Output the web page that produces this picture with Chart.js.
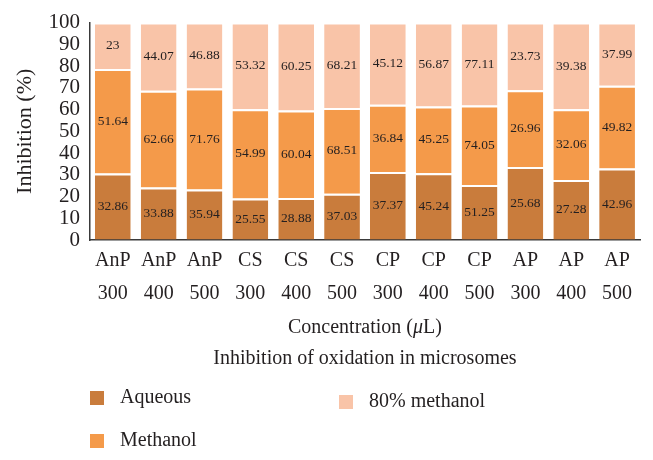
<!DOCTYPE html>
<html>
<head>
<meta charset="utf-8">
<script src="https://cdn.jsdelivr.net/npm/chart.js@4/dist/chart.umd.min.js"></script>
<style>
  html, body { margin: 0; padding: 0; background: #fff; }
  #wrap { width: 653px; height: 460px; }
</style>
</head>
<body>
<div id="wrap"><canvas id="MyChart" width="653" height="460"></canvas></div>
<script>
const groups = ['AnP', 'AnP', 'AnP', 'CS', 'CS', 'CS', 'CP', 'CP', 'CP', 'AP', 'AP', 'AP'];
const concs = ['300', '400', '500', '300', '400', '500', '300', '400', '500', '300', '400', '500'];

const aqueous = [32.86, 33.88, 35.94, 25.55, 28.88, 37.03, 37.37, 45.24, 51.25, 25.68, 27.28, 42.96];
const methanol = [51.64, 62.66, 71.76, 54.99, 60.04, 68.51, 36.84, 45.25, 74.05, 26.96, 32.06, 49.82];
const methanol80 = [23, 44.07, 46.88, 53.32, 60.25, 68.21, 45.12, 56.87, 77.11, 23.73, 39.38, 37.99];

const yTicks = [0, 10, 20, 30, 40, 50, 60, 70, 80, 90, 100];

const serif = '"Liberation Serif", "DejaVu Serif", serif';

// bars are 100% stacked, labels show the raw values
const totals = aqueous.map((v, i) => v + methanol[i] + methanol80[i]);
const pct = (arr) => arr.map((v, i) => v / totals[i] * 100);

const series = [
    {label: 'Aqueous', raw: aqueous, color: '#C97C3C'},
    {label: 'Methanol', raw: methanol, color: '#F49A4A'},
    {label: '80% methanol', raw: methanol80, color: '#F9C4A8'}
];

const barLabels = {
    id: 'barLabels',
    afterDatasetsDraw(chart) {
        const c = chart.ctx;
        c.save();
        c.font = '13.5px ' + serif;
        c.fillStyle = '#231f20';
        c.textAlign = 'center';
        c.textBaseline = 'middle';
        chart.data.datasets.forEach((ds, di) => {
            chart.getDatasetMeta(di).data.forEach((bar, i) => {
                c.fillText(String(ds.raw[i]), bar.x, (bar.y + bar.base) / 2);
            });
        });
        c.restore();
    }
};

// x-axis title, caption and the two-column legend below the chart
const bottomTexts = {
    id: 'bottomTexts',
    afterDraw(chart) {
        const c = chart.ctx;
        const area = chart.chartArea;
        const cx = (area.left + area.right) / 2;
        const b = area.bottom;
        c.save();
        c.fillStyle = '#231f20';
        c.textBaseline = 'middle';

        // Concentration (μL) with italic mu
        const parts = [['Concentration (', ''], ['\u03bc', 'italic '], ['L)', '']];
        let w = 0;
        parts.forEach(p => { c.font = p[1] + '20px ' + serif; w += c.measureText(p[0]).width; });
        let x = cx - w / 2;
        c.textAlign = 'left';
        parts.forEach(p => {
            c.font = p[1] + '20px ' + serif;
            c.fillText(p[0], x, b + 88);
            x += c.measureText(p[0]).width;
        });

        c.font = '20px ' + serif;
        c.textAlign = 'center';
        c.fillText('Inhibition of oxidation in microsomes', cx, b + 119);

        const spots = [[90, b + 158], [90, b + 201], [339, b + 162]];
        chart.data.datasets.forEach((ds, di) => {
            const s = spots[di];
            c.fillStyle = ds.backgroundColor;
            c.fillRect(s[0], s[1] - 7, 14, 14);
            c.fillStyle = '#231f20';
            c.textAlign = 'left';
            c.fillText(ds.label, s[0] + 30, s[1]);
        });
        c.restore();
    }
};

const ctx = document.getElementById('MyChart').getContext('2d');
let myChart = new Chart(ctx, {
    type: 'bar',
    data: {
        labels: groups.map((g, i) => [g, concs[i]]),
        datasets: series.map(s => ({
            label: s.label,
            raw: s.raw,
            data: pct(s.raw),
            backgroundColor: s.color,
            borderColor: '#ffffff',
            borderWidth: {top: 2, right: 0, bottom: 0, left: 0},
            borderSkipped: false,
            barPercentage: 0.78,
            categoryPercentage: 1.0
        }))
    },
    options: {
        responsive: false,
        animation: false,
        layout: {padding: {left: 0, right: 13, top: 20, bottom: 146}},
        plugins: {
            legend: {display: false},
            tooltip: {enabled: false}
        },
        scales: {
            x: {
                stacked: true,
                grid: {display: true, drawOnChartArea: false, drawTicks: false},
                border: {display: true, color: '#3a3a3a', width: 1.5},
                ticks: {
                    color: '#231f20',
                    padding: 4,
                    maxRotation: 0,
                    autoSkip: false,
                    font: {family: serif, size: 20, lineHeight: 1.65}
                }
            },
            y: {
                stacked: true,
                min: 0,
                max: 100,
                afterBuildTicks(scale) { scale.ticks = yTicks.map(v => ({value: v})); },
                grid: {display: true, drawOnChartArea: false, drawTicks: false},
                border: {display: true, color: '#3a3a3a', width: 1.5},
                ticks: {
                    color: '#231f20',
                    padding: 10,
                    autoSkip: false,
                    font: {family: serif, size: 21}
                },
                title: {
                    display: true,
                    text: 'Inhibition (%)',
                    color: '#231f20',
                    padding: {top: 12, bottom: 0},
                    font: {family: serif, size: 22}
                }
            }
        }
    },
    plugins: [barLabels, bottomTexts]
});
</script>
</body>
</html>
